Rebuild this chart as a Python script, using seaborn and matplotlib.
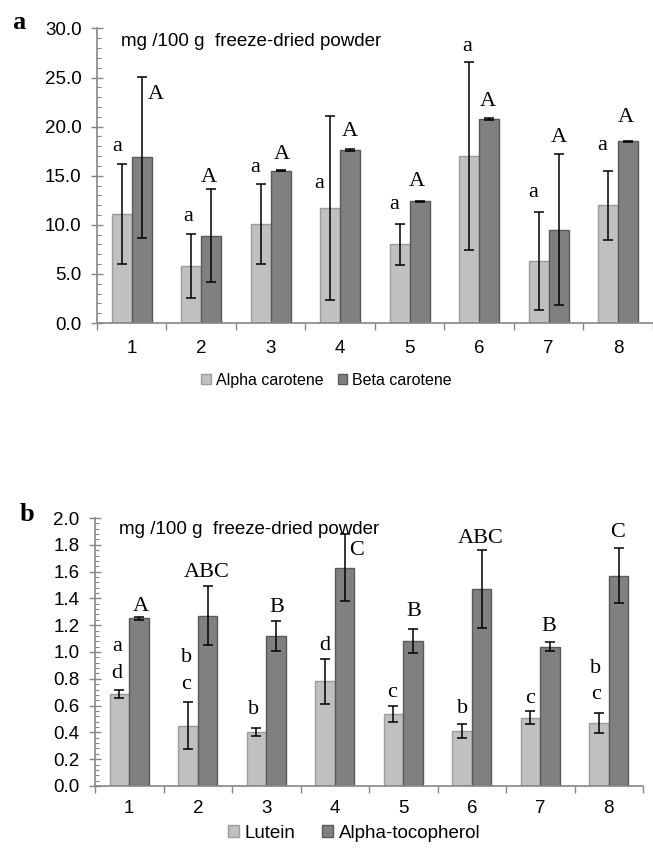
import matplotlib
matplotlib.use('Agg')
import matplotlib.pyplot as plt
import seaborn as sns
import pandas as pd
from matplotlib.patches import Patch
from matplotlib.ticker import MultipleLocator, FormatStrFormatter

# sample numbers on the x axis
samples = ['1', '2', '3', '4', '5', '6', '7', '8']

# panel a: carotenes (mg /100 g freeze-dried powder)
alpha_carotene = [11.1, 5.8, 10.1, 11.7, 8.0, 17.0, 6.3, 12.0]
alpha_carotene_err = [5.1, 3.3, 4.1, 9.4, 2.1, 9.6, 5.0, 3.5]
beta_carotene = [16.9, 8.9, 15.5, 17.6, 12.4, 20.8, 9.5, 18.5]
beta_carotene_err = [8.2, 4.7, 0.05, 0.12, 0.05, 0.12, 7.7, 0.05]
alpha_letters = ['a', 'a', 'a', 'a', 'a', 'a', 'a', 'a']
beta_letters = ['A', 'A', 'A', 'A', 'A', 'A', 'A', 'A']

# panel b: lutein and alpha-tocopherol
lutein = [0.69, 0.45, 0.40, 0.78, 0.54, 0.41, 0.51, 0.47]
lutein_err = [0.03, 0.175, 0.03, 0.17, 0.06, 0.05, 0.05, 0.075]
tocopherol = [1.25, 1.27, 1.12, 1.63, 1.085, 1.47, 1.04, 1.57]
tocopherol_err = [0.01, 0.22, 0.11, 0.25, 0.09, 0.29, 0.035, 0.205]
lutein_letters = ['a\nd', 'b\nc', 'b', 'd', 'c', 'b', 'c', 'b\nc']
tocopherol_letters = ['A', 'ABC', 'B', 'C', 'B', 'ABC', 'B', 'C']

# where the significance letters sit (data y, x shift from category centre)
alpha_lbl_y = [18.0, 10.8, 15.8, 14.2, 12.1, 28.2, 13.3, 18.1]
alpha_lbl_dx = [-0.21, -0.19, -0.22, -0.30, -0.22, -0.17, -0.22, -0.23]
beta_lbl_y = [23.3, 14.8, 17.2, 19.5, 14.4, 22.6, 18.9, 20.9]
beta_lbl_dx = [0.35, 0.11, 0.16, 0.135, 0.10, 0.13, 0.14, 0.115]
lutein_lbl_y = [1.04, 0.96, 0.57, 1.05, 0.70, 0.58, 0.65, 0.88]
lutein_lbl_dx = [-0.18, -0.17, -0.18, -0.14, -0.165, -0.14, -0.15, -0.19]
toco_lbl_y = [1.34, 1.59, 1.33, 1.76, 1.30, 1.85, 1.19, 1.89]
toco_lbl_dx = [0.17, 0.13, 0.16, 0.32, 0.16, 0.13, 0.13, 0.13]

light, dark = '#c0c0c0', '#808080'
light_edge, dark_edge = '#9c9c9c', '#595959'
axis_grey = '#868686'

plt.rcParams['font.family'] = ['Liberation Sans', 'DejaVu Sans']
serif = ['Liberation Serif', 'DejaVu Serif']


def draw_panel(ax, names, v1, e1, v2, e2, ymax, major, minor, lab1, lab2,
               y1, dx1, y2, dx2, step):
    df = pd.DataFrame({
        'sample': samples * 2,
        'series': [names[0]] * 8 + [names[1]] * 8,
        'value': v1 + v2,
    })
    sns.barplot(data=df, x='sample', y='value', hue='series', order=samples,
                hue_order=names, palette=[light, dark], saturation=1,
                width=0.575, errorbar=None, legend=False, ax=ax)
    for cont, errs, ec in zip(ax.containers, [e1, e2], [light_edge, dark_edge]):
        xs, ys = [], []
        for p in cont.patches:
            p.set_edgecolor(ec)
            p.set_linewidth(1.0)
            xs.append(p.get_x() + p.get_width() / 2)
            ys.append(p.get_height())
        ax.errorbar(xs, ys, yerr=errs, fmt='none', ecolor='black',
                    elinewidth=1.1, capsize=3.5, capthick=1.1, zorder=5)

    # significance letters
    for labs, ys, dxs in [(lab1, y1, dx1), (lab2, y2, dx2)]:
        for i, (lab, y, dx) in enumerate(zip(labs, ys, dxs)):
            for k, line in enumerate(lab.split('\n')):
                ax.text(i + dx, y - k * step, line, ha='center', va='center',
                        fontsize=16, family=serif, color='black')

    ax.set_xlim(-0.5, 7.5)
    ax.set_ylim(0, ymax)
    ax.yaxis.set_major_locator(MultipleLocator(major))
    ax.yaxis.set_minor_locator(MultipleLocator(minor))
    ax.yaxis.set_major_formatter(FormatStrFormatter('%.1f'))
    ax.set_xticks(range(8))
    ax.set_xticklabels(samples)
    ax.set_xticks([i - 0.5 for i in range(9)], minor=True)
    ax.set_xlabel('')
    ax.set_ylabel('')
    for s in ['top', 'right']:
        ax.spines[s].set_visible(False)
    for s in ['left', 'bottom']:
        ax.spines[s].set_color(axis_grey)
        ax.spines[s].set_linewidth(1.2)
    ax.tick_params(axis='y', which='major', direction='inout', length=8,
                   width=1, color=axis_grey, labelsize=13.5, pad=7)
    ax.tick_params(axis='y', which='minor', direction='in', length=3,
                   width=0.8, color=axis_grey)
    ax.tick_params(axis='x', which='major', length=0, labelsize=13.5)
    ax.tick_params(axis='x', which='minor', direction='out', length=5,
                   width=1, color=axis_grey)
    ax.text(0.043, 0.956, 'mg /100 g  freeze-dried powder',
            transform=ax.transAxes, ha='left', va='center', fontsize=13.5)


fig = plt.figure(figsize=(6.53, 8.51), dpi=100)
ax_a = fig.add_axes([0.1485, 0.6204, 0.8515, 0.3462])
ax_b = fig.add_axes([0.1455, 0.0764, 0.8392, 0.3149])

draw_panel(ax_a, ['Alpha carotene', 'Beta carotene'],
           alpha_carotene, alpha_carotene_err, beta_carotene, beta_carotene_err,
           30, 5, 1, alpha_letters, beta_letters,
           alpha_lbl_y, alpha_lbl_dx, beta_lbl_y, beta_lbl_dx, 0)
ax_a.tick_params(axis='x', which='major', pad=12)

draw_panel(ax_b, ['Lutein', 'Alpha-tocopherol'],
           lutein, lutein_err, tocopherol, tocopherol_err,
           2.0, 0.2, 0.04, lutein_letters, tocopherol_letters,
           lutein_lbl_y, lutein_lbl_dx, toco_lbl_y, toco_lbl_dx, 0.2)
ax_b.tick_params(axis='x', which='major', pad=10)

# legends under each panel
for names, pos, fs, cs in [(['Alpha carotene', 'Beta carotene'], (0.50, 0.553), 11.5, 0.9),
                           (['Lutein', 'Alpha-tocopherol'], (0.542, 0.021), 13.5, 1.4)]:
    handles = [Patch(facecolor=light, edgecolor=light_edge),
               Patch(facecolor=dark, edgecolor=dark_edge)]
    fig.legend(handles, names, loc='center', bbox_to_anchor=pos, ncol=2,
               frameon=False, fontsize=fs, handlelength=0.6,
               handleheight=0.6, handletextpad=0.3, columnspacing=cs)

# panel letters
fig.text(0.018, 0.973, 'a', fontsize=19, fontweight='bold', family=serif,
         ha='left', va='center')
fig.text(0.030, 0.396, 'b', fontsize=19, fontweight='bold', family=serif,
         ha='left', va='center')

fig.savefig('out.png', dpi=100)
